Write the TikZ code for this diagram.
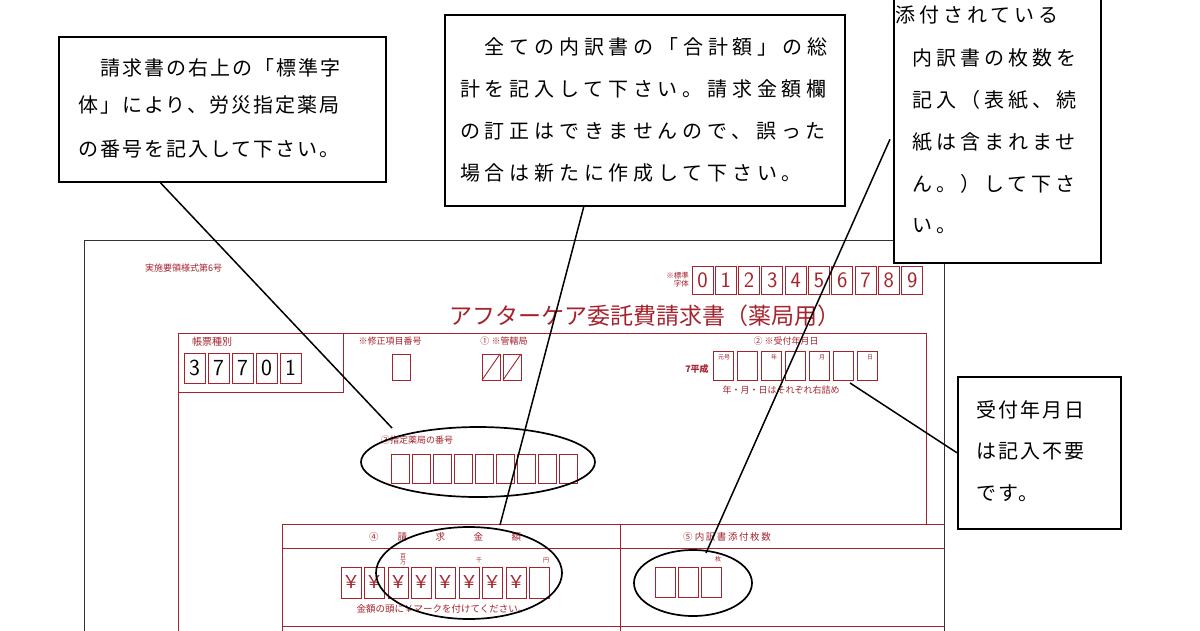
\documentclass[tikz,border=0pt]{standalone}
\usepackage{fontspec}
\setmainfont{Noto Sans CJK JP}
\newfontfamily\cwa[LetterSpace=10]{Noto Sans CJK JP}
\newfontfamily\cwb[LetterSpace=24]{Noto Sans CJK JP}
\newfontfamily\cwc[LetterSpace=20]{Noto Sans CJK JP}
\definecolor{fr}{RGB}{165,35,45}
\begin{document}
\begin{tikzpicture}[x=1pt,y=-1pt,
  call/.style={draw=black,line width=1.6pt,fill=white},
  ct/.style={anchor=west,font=\fontsize{20}{20}\selectfont,inner sep=0pt},
  rt/.style={text=fr,inner sep=0pt},
  cell/.style={draw=fr,line width=0.9pt},
  lead/.style={draw=black,line width=1.5pt},
  oval/.style={draw=black,line width=1.7pt}]
\useasboundingbox (0,0) rectangle (1200,630);
\fill[white] (0,0) rectangle (1200,630);
% outer sheet
\draw[line width=1pt,black!80] (84,640) -- (84,240) -- (944,240) -- (944,640);
% header texts
\node[rt,font=\fontsize{9}{9}\selectfont,anchor=west] (form) at (145,268) {実施要領様式第6号};
\node[rt,font=\fontsize{7.5}{8}\selectfont,align=right,anchor=east] (std) at (689,280) {※標準\\字体};
\foreach \d [count=\i from 0] in {0,1,2,3,4,5,6,7,8,9}{
  \draw[cell] (692+\i*23.3,266) rectangle +(21,28);
  \node[rt,font=\fontsize{22}{22}\selectfont\sffamily] at (702.5+\i*23.3,280.5) {\d};}
\node[rt,font=\fontsize{23}{23}\selectfont\rmfamily] (title) at (645,316) {アフターケア委託費請求書（薬局用）};
% main red frame
\draw[fr,line width=1pt] (178,640) -- (178,333) -- (926,333) -- (926,524);
\draw[cell] (178,392) -- (343,392) -- (343,333);
\node[rt,font=\fontsize{10}{10}\selectfont,anchor=west] at (192,342) {帳票種別};
\foreach \d [count=\i from 0] in {3,7,7,0,1}{
  \draw[cell] (184+\i*24,353) rectangle +(21,30);
  \node[font=\fontsize{23}{23}\selectfont\sffamily,inner sep=0pt] at (194.5+\i*24,368) {\d};}
\node[rt,font=\fontsize{9}{9}\selectfont] at (390,341) {※修正項目番号};
\draw[cell] (392,354) rectangle (410,380);
\node[rt,font=\fontsize{9}{9}\selectfont] at (504,341) {①\ ※管轄局};
\foreach \i in {0,1}{\draw[cell] (482+\i*21,354) rectangle +(18,26); \draw[cell] (482+\i*21,380) -- +(18,-26);}
\node[rt,font=\fontsize{9}{9}\selectfont] at (786,341) {②\ ※受付年月日};
\node[rt,font=\fontsize{9}{9}\selectfont\bfseries] at (697,369) {7平成};
\foreach \i in {0,...,6}{\draw[cell] (713+\i*24,351) rectangle +(20,29);}
\node[rt,font=\fontsize{6}{6}\selectfont] at (724,357) {元号};
\node[rt,font=\fontsize{6}{6}\selectfont] at (774,357) {年};
\node[rt,font=\fontsize{6}{6}\selectfont] at (822,357) {月};
\node[rt,font=\fontsize{6}{6}\selectfont] at (870,357) {日};
\node[rt,font=\fontsize{9}{9}\selectfont] at (781,390) {年・月・日はそれぞれ右詰め};
% pharmacy number
\node[rt,font=\fontsize{9}{9}\selectfont,anchor=west] at (381,440) {③指定薬局の番号};
\foreach \i in {0,...,8}{\draw[cell] (391+\i*21,454) rectangle +(18,29);}
% amount section
\draw[cell] (282,640) -- (282,524) -- (945,524);
\draw[cell] (282,548) -- (945,548);
\draw[cell] (620,524) -- (620,640);
\draw[cell] (282,626) -- (945,626);
\node[rt,font=\fontsize{9.5}{10}\selectfont] at (445,537) {④\qquad 請\qquad\quad 求\qquad\quad 金\qquad\quad 額};
\foreach \i in {0,...,8}{\draw[cell] (341+\i*23.6,567) rectangle +(20,31);}
\foreach \i in {0,...,7}{\node[rt,font=\fontsize{18}{18}\selectfont] at (351+\i*23.6,582.5) {￥};}
\node[rt,font=\fontsize{6}{6}\selectfont,align=center] at (403,559) {百\\万};
\node[rt,font=\fontsize{6}{6}\selectfont] at (479,560) {千};
\node[rt,font=\fontsize{6}{6}\selectfont] at (546,560) {円};
\node[rt,font=\fontsize{9.5}{10}\selectfont] at (442,609) {金額の頭に￥マークを付けてください。};
\node[rt,font=\fontsize{9.5}{10}\selectfont] at (727,537) {⑤\ 内\,訳\,書\,添\,付\,枚\,数};
\foreach \i in {0,1,2}{\draw[cell] (655+\i*23,567) rectangle +(20,30);}
\node[rt,font=\fontsize{6}{6}\selectfont] at (718,559) {枚};
% ovals
\draw[oval] (478,462) ellipse [x radius=117,y radius=35];
\draw[oval] (469,573) ellipse [x radius=93,y radius=46];
\draw[oval] (693,583) ellipse [x radius=59,y radius=33];
\coordinate (e1) at (392,428);
\coordinate (e2) at (500,525);
\coordinate (e3) at (706,553);
\coordinate (e4) at (850,383);
% callouts
\node[call,minimum width=327,minimum height=145,anchor=north west] (c1) at (58,36) {};
\node[ct,font=\fontsize{20}{20}\cwa] at (78,68) {　請求書の右上の「標準字};
\node[ct,font=\fontsize{20}{20}\cwa] at (78,105) {体」により、労災指定薬局};
\node[ct,font=\fontsize{20}{20}\cwa] at (78,149) {の番号を記入して下さい。};
\node[call,minimum width=400,minimum height=191,anchor=north west] (c2) at (444,14) {};
\node[ct,font=\fontsize{20}{20}\cwb] at (460,47) {　全ての内訳書の「合計額」の総};
\node[ct,font=\fontsize{20}{20}\cwb] at (460,89) {計を記入して下さい。請求金額欄};
\node[ct,font=\fontsize{20}{20}\cwb] at (460,131) {の訂正はできませんので、誤った};
\node[ct,font=\fontsize{20}{20}\cwb] at (460,173) {場合は新たに作成して下さい。};
\node[call,minimum width=207,minimum height=267,anchor=north west] (c3) at (893,-5) {};
\node[ct,font=\fontsize{20}{20}\cwc] at (895,15) {添付されている};
\node[ct,font=\fontsize{20}{20}\cwc] at (888,58) {　内訳書の枚数を};
\node[ct,font=\fontsize{20}{20}\cwc] at (888,100) {　記入（表紙、続};
\node[ct,font=\fontsize{20}{20}\cwc] at (888,142) {　紙は含まれませ};
\node[ct,font=\fontsize{20}{20}\cwc] at (888,184) {　ん。）して下さ};
\node[ct,font=\fontsize{20}{20}\cwc] at (888,226) {　い。};
\node[call,minimum width=163,minimum height=152,anchor=north west] (c4) at (957,376) {};
\node[ct,font=\fontsize{20}{20}\cwa] at (976,410) {受付年月日};
\node[ct,font=\fontsize{20}{20}\cwa] at (976,451) {は記入不要};
\node[ct,font=\fontsize{20}{20}\cwa] at (976,493) {です。};
% leaders
\draw[lead] (c1.south) ++(-62,0) -- (e1);
\draw[lead] (c2.south) ++(-61,0) -- (e2);
\draw[lead] (c3.west) ++(-3,10) -- (e3);
\draw[lead] (c4.west) -- (e4);
\end{tikzpicture}
\end{document}
